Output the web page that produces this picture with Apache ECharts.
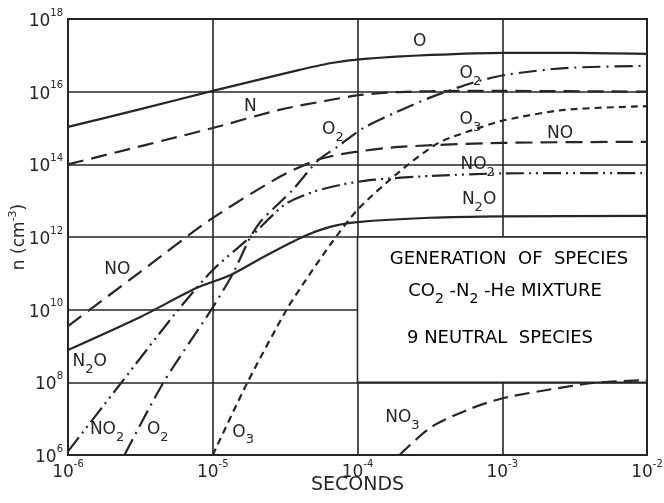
<!DOCTYPE html>
<html>
<head>
<meta charset="utf-8">
<script src="https://cdn.jsdelivr.net/npm/echarts@6/dist/echarts.min.js"></script>
<style>
html, body { margin: 0; padding: 0; background: #fff; }
#chart { width: 664px; height: 503px; }
</style>
</head>
<body>
<div id="chart"></div>
<script>
// points are [log10(seconds), log10(n cm^-3)]
const curveO   = [[-6, 15.03], [-5.5, 15.52], [-5, 16.02], [-4.63, 16.38], [-4.4, 16.6], [-4.18, 16.79], [-3.95, 16.9], [-3.49, 17.01], [-2.99, 17.07], [-2.5, 17.07], [-2, 17.04]];
const curveN   = [[-6, 14.0], [-5, 15.0], [-4.54, 15.5], [-4.19, 15.77], [-3.98, 15.91], [-3.71, 15.99], [-3.3, 16.02], [-3, 16.02], [-2, 16.0]];
const curveO2  = [[-5.61, 6.0], [-5.34, 8.0], [-5.01, 10.0], [-4.86, 11.0], [-4.74, 12.0], [-4.66, 12.47], [-4.45, 13.29], [-4.27, 14.12], [-4.14, 14.48], [-3.96, 15.0], [-3.73, 15.44], [-3.49, 15.85], [-3.21, 16.24], [-2.98, 16.46], [-2.57, 16.65], [-2, 16.71]];
const curveO3  = [[-5.0, 6.0], [-4.76, 8.0], [-4.49, 10.0], [-4.38, 10.68], [-4.19, 11.78], [-4.0, 12.75], [-3.71, 13.8], [-3.44, 14.59], [-3.14, 15.03], [-2.98, 15.22], [-2.57, 15.5], [-2, 15.6]];
const curveNO  = [[-6, 9.55], [-5.5, 11.04], [-5.02, 12.47], [-4.54, 13.65], [-4.28, 14.12], [-4.07, 14.31], [-3.71, 14.48], [-3, 14.59], [-2, 14.62]];
const curveNO2 = [[-6, 6.1], [-5.63, 8.0], [-5.25, 9.94], [-5.0, 11.09], [-4.74, 12.0], [-4.5, 12.9], [-4.3, 13.25], [-4.1, 13.45], [-3.9, 13.57], [-3.5, 13.68], [-3, 13.75], [-2, 13.76]];
const curveN2O = [[-6, 8.89], [-5.5, 9.8], [-5.11, 10.6], [-4.88, 10.95], [-4.65, 11.45], [-4.38, 12.0], [-4.19, 12.28], [-4.0, 12.41], [-3.5, 12.53], [-3, 12.57], [-2, 12.58]];
const curveNO3 = [[-3.71, 6.0], [-3.49, 6.77], [-3.21, 7.29], [-2.99, 7.57], [-2.57, 7.87], [-2.33, 8.0], [-2, 8.06]];

// curve labels: text, log10(seconds), log10(n)
const labelText = ["O", "O₂", "N", "O₂", "O₃", "NO", "NO₂", "N₂O", "NO", "N₂O", "NO₂", "O₂", "O₃", "NO₃"];
const labelX = [-3.57, -3.22, -4.74, -4.17, -3.22, -2.6, -3.17, -3.16, -5.66, -5.85, -5.73, -5.38, -4.79, -3.69];
const labelY = [17.37, 16.51, 15.58, 14.95, 15.22, 14.86, 13.98, 13.02, 11.09, 8.56, 6.69, 6.69, 6.63, 7.02];

const boxLines = ["GENERATION  OF  SPECIES", "CO₂ -N₂ -He MIXTURE", "9 NEUTRAL  SPECIES"];

const FONT = "DejaVu Sans";
const INK = "#262626";

const toValues = (pts) => pts.map((p) => [Math.pow(10, p[0]), Math.pow(10, p[1])]);
const expOf = (v) => Math.round(Math.log10(v));
// turn unicode subscripts into rich-text tokens
const subRich = (t) =>
  "{a|" + t.replace(/[₂₃]/g, (c) => "}{s|" + (c === "₂" ? "2" : "3") + "}{a|") + "}";

function curve(name, pts, dash) {
  return {
    name: name,
    type: "line",
    data: toValues(pts),
    showSymbol: false,
    smooth: 0.25,
    clip: true,
    z: 3,
    lineStyle: { color: INK, width: 2.2, type: dash },
  };
}

const tickRich = {
  b: { fontSize: 17, fontFamily: FONT, color: INK, lineHeight: 22, verticalAlign: "bottom" },
  s: { fontSize: 10, fontFamily: FONT, color: INK, lineHeight: 12, verticalAlign: "top" },
};

const labelRich = (size) => ({
  a: { fontSize: size, fontFamily: FONT, color: INK, lineHeight: size + 6, verticalAlign: "top" },
  s: { fontSize: size - 4, fontFamily: FONT, color: INK, lineHeight: size - 4, verticalAlign: "bottom" },
});

const myChart = echarts.init(document.getElementById("chart"));

myChart.setOption({
  backgroundColor: "#fff",
  animation: false,
  grid: {
    left: 68,
    right: 17,
    top: 19,
    bottom: 48,
    outerBoundsMode: "none",
    show: true,
    borderColor: INK,
    borderWidth: 2,
  },
  xAxis: {
    type: "log",
    logBase: 10,
    min: 1e-6,
    max: 1e-2,
    name: "SECONDS",
    nameLocation: "middle",
    nameGap: 21,
    nameMoveOverlap: false,
    nameTextStyle: { fontSize: 19, fontFamily: FONT, color: INK },
    axisLine: { lineStyle: { color: INK, width: 2 } },
    axisTick: { show: false },
    minorTick: { show: false },
    splitLine: { show: true, lineStyle: { color: INK, width: 1.6 } },
    axisLabel: {
      margin: 4,
      formatter: (v) => "{b|10}{s|" + expOf(v) + "}",
      rich: tickRich,
    },
  },
  yAxis: {
    type: "log",
    logBase: 100,
    min: 1e6,
    max: 1e18,
    name: "{a|n (cm}{s|-3}{a|)}",
    nameLocation: "middle",
    nameRotate: 90,
    nameGap: 40,
    nameMoveOverlap: false,
    nameTextStyle: {
      rich: {
        a: { fontSize: 17, fontFamily: FONT, color: INK, lineHeight: 20, verticalAlign: "bottom" },
        s: { fontSize: 11, fontFamily: FONT, color: INK, lineHeight: 12, verticalAlign: "top" },
      },
    },
    axisLine: { lineStyle: { color: INK, width: 2 } },
    axisTick: { show: false },
    splitLine: { show: true, lineStyle: { color: INK, width: 1.6 } },
    axisLabel: {
      margin: 5,
      formatter: (v) => "{b|10}{s|" + expOf(v) + "}",
      rich: tickRich,
    },
  },
  series: [
    {
      // white panel that holds the legend text
      type: "line",
      data: [],
      z: 1,
      markArea: {
        silent: true,
        itemStyle: { color: "#fff", borderColor: INK, borderWidth: 1.6 },
        data: [[{ coord: [1e-4, 1e12] }, { coord: [1e-2, 1e8] }]],
      },
    },
    curve("O", curveO, "solid"),
    curve("N", curveN, [16, 8]),
    curve("O2", curveO2, [18, 6, 2, 6]),
    curve("O3", curveO3, [7, 5]),
    curve("NO", curveNO, [17, 8]),
    curve("NO2", curveNO2, [18, 5, 2, 5, 2, 5]),
    curve("N2O", curveN2O, "solid"),
    curve("NO3", curveNO3, [15, 7]),
    {
      type: "scatter",
      symbolSize: 1,
      z: 4,
      itemStyle: { color: "rgba(0,0,0,0)", opacity: 1 },
      data: labelText.map((t, i) => ({
        name: t,
        value: [Math.pow(10, labelX[i]), Math.pow(10, labelY[i])],
      })),
      label: {
        show: true,
        position: "inside",
        offset: [0, 3],
        opacity: 1,
        formatter: (p) => subRich(p.name),
        rich: labelRich(17),
      },
    },
  ],
  graphic: boxLines.map((t, i) => ({
    type: "text",
    x: [509, 505, 500][i],
    y: [262, 294, 341][i],
    z: 10,
    style: {
      text: subRich(t),
      rich: labelRich(18),
      align: "center",
      verticalAlign: "middle",
    },
  })),
});
</script>
</body>
</html>
